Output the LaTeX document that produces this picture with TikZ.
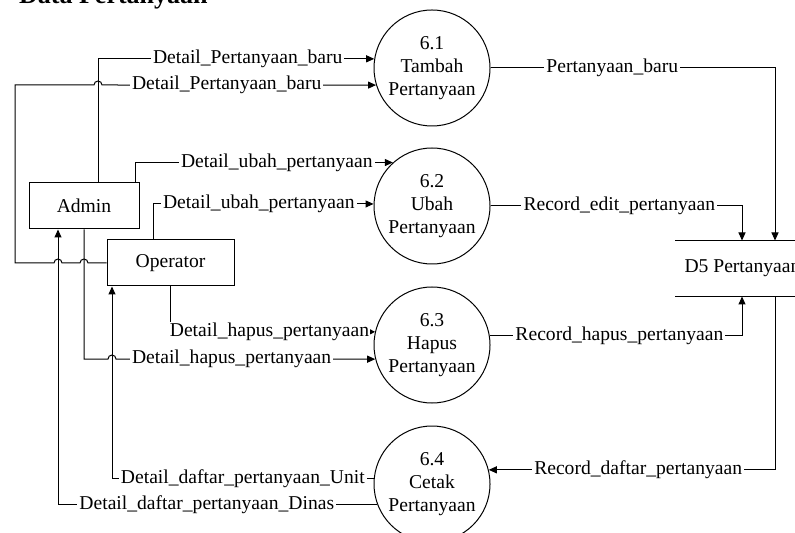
\documentclass[tikz,border=0pt]{standalone}
\usepackage{fontspec}
\setmainfont{Liberation Serif}
\usetikzlibrary{arrows.meta}

\tikzstyle{entity}    = [draw,minimum height=23pt,font=\fontsize{9.8}{11.5}\selectfont]
\tikzstyle{process}   = [draw,circle,minimum size=58pt,inner sep=0pt,align=center,font=\fontsize{9.8}{11.5}\selectfont]
\tikzstyle{store}     = [anchor=west,inner xsep=4.5pt,minimum height=27.5pt,font=\fontsize{9.8}{11.5}\selectfont]
\tikzstyle{flow}      = [draw,-{Triangle[length=4pt,width=3.5pt]}]
\tikzstyle{shortflow} = [draw,-{Triangle[length=2.5pt,width=2.5pt]}]
\tikzstyle{flowlabel} = [fill=white,inner xsep=1pt,inner ysep=0.5pt,font=\fontsize{9.8}{11.5}\selectfont]

\begin{document}
\begin{tikzpicture}[x=0.5pt,y=-0.5pt,line width=0.5pt]
\useasboundingbox (0,0) rectangle (795,533);
% Draw the title
\node[anchor=base west,font=\bfseries\fontsize{13}{15}\selectfont] (title) at (12,4) {Data Pertanyaan};
% Draw the external entities
\node[entity,minimum width=55pt] (admin) at (84,206) {Admin};
\node[entity,minimum width=63.5pt] (op) at (170.5,263) {Operator};
% Draw the processes
\node[process] (p1) at (432,68) {6.1\\Tambah\\Pertanyaan};
\node[process] (p2) at (432,206) {6.2\\Ubah\\Pertanyaan};
\node[process] (p3) at (432,345) {6.3\\Hapus\\Pertanyaan};
\node[process] (p4) at (432,484) {6.4\\Cetak\\Pertanyaan};
% Draw the data store
\node[store] (d5) at (675,268.5) {D5 Pertanyaan};
\draw (d5.north west) -- (d5.north east);
\draw (d5.south west) -- (d5.south east);
% Flows into 6.1
\path[flow] ([xshift=7pt]admin.north) |- node[flowlabel,pos=0.771] {Detail\_Pertanyaan\_baru} (p1.171);
\path[flow] (op.west) -- (88,263) arc[start angle=0,end angle=180,radius=2pt]
  -- (62,263) arc[start angle=0,end angle=180,radius=2pt]
  -- (15,263) -- (15,85) -- (94,85) arc[start angle=180,end angle=0,radius=2pt]
  -- node[flowlabel,pos=0.455] {Detail\_Pertanyaan\_baru} (p1.197);
% Flows into 6.2
\path[flow] ([xshift=25.5pt]admin.north) |- node[flowlabel,pos=0.775] {Detail\_ubah\_pertanyaan} (p2.132);
\path[flow] ([xshift=-8.75pt]op.north) |- node[flowlabel,pos=0.74] {Detail\_ubah\_pertanyaan} (p2.178);
% Flows into 6.3
\path[shortflow] (op.south) |- node[flowlabel,inner xsep=0.5pt,pos=0.742] {Detail\_hapus\_pertanyaan} (p3.167);
\path[flow] (admin.south) -- (84,359) -- (108,359) arc[start angle=180,end angle=0,radius=2pt]
  -- node[flowlabel,pos=0.446] {Detail\_hapus\_pertanyaan} (p3.194);
% Flows out of 6.4
\path[flow] (p4.175) -| node[flowlabel,pos=0.25] {Detail\_daftar\_pertanyaan\_Unit} ([xshift=-29.25pt]op.south);
\path[flow] (p4.201) -| node[flowlabel,pos=0.267] {Detail\_daftar\_pertanyaan\_Dinas} ([xshift=-13pt]admin.south);
% Flows to and from the data store
\path[flow] (p1.east) -| node[flowlabel,pos=0.214] {Pertanyaan\_baru} ([xshift=50pt]d5.north west);
\path[flow] (p2.east) -| node[flowlabel,pos=0.256] {Record\_edit\_pertanyaan} ([xshift=33.5pt]d5.north west);
\path[flow] (p3.9) -| node[flowlabel,pos=0.257] {Record\_hapus\_pertanyaan} ([xshift=33.5pt]d5.south west);
\path[flow] ([xshift=50pt]d5.south west) |- node[flowlabel,pos=0.739] {Record\_daftar\_pertanyaan} (p4.14);
\end{tikzpicture}
\end{document}
